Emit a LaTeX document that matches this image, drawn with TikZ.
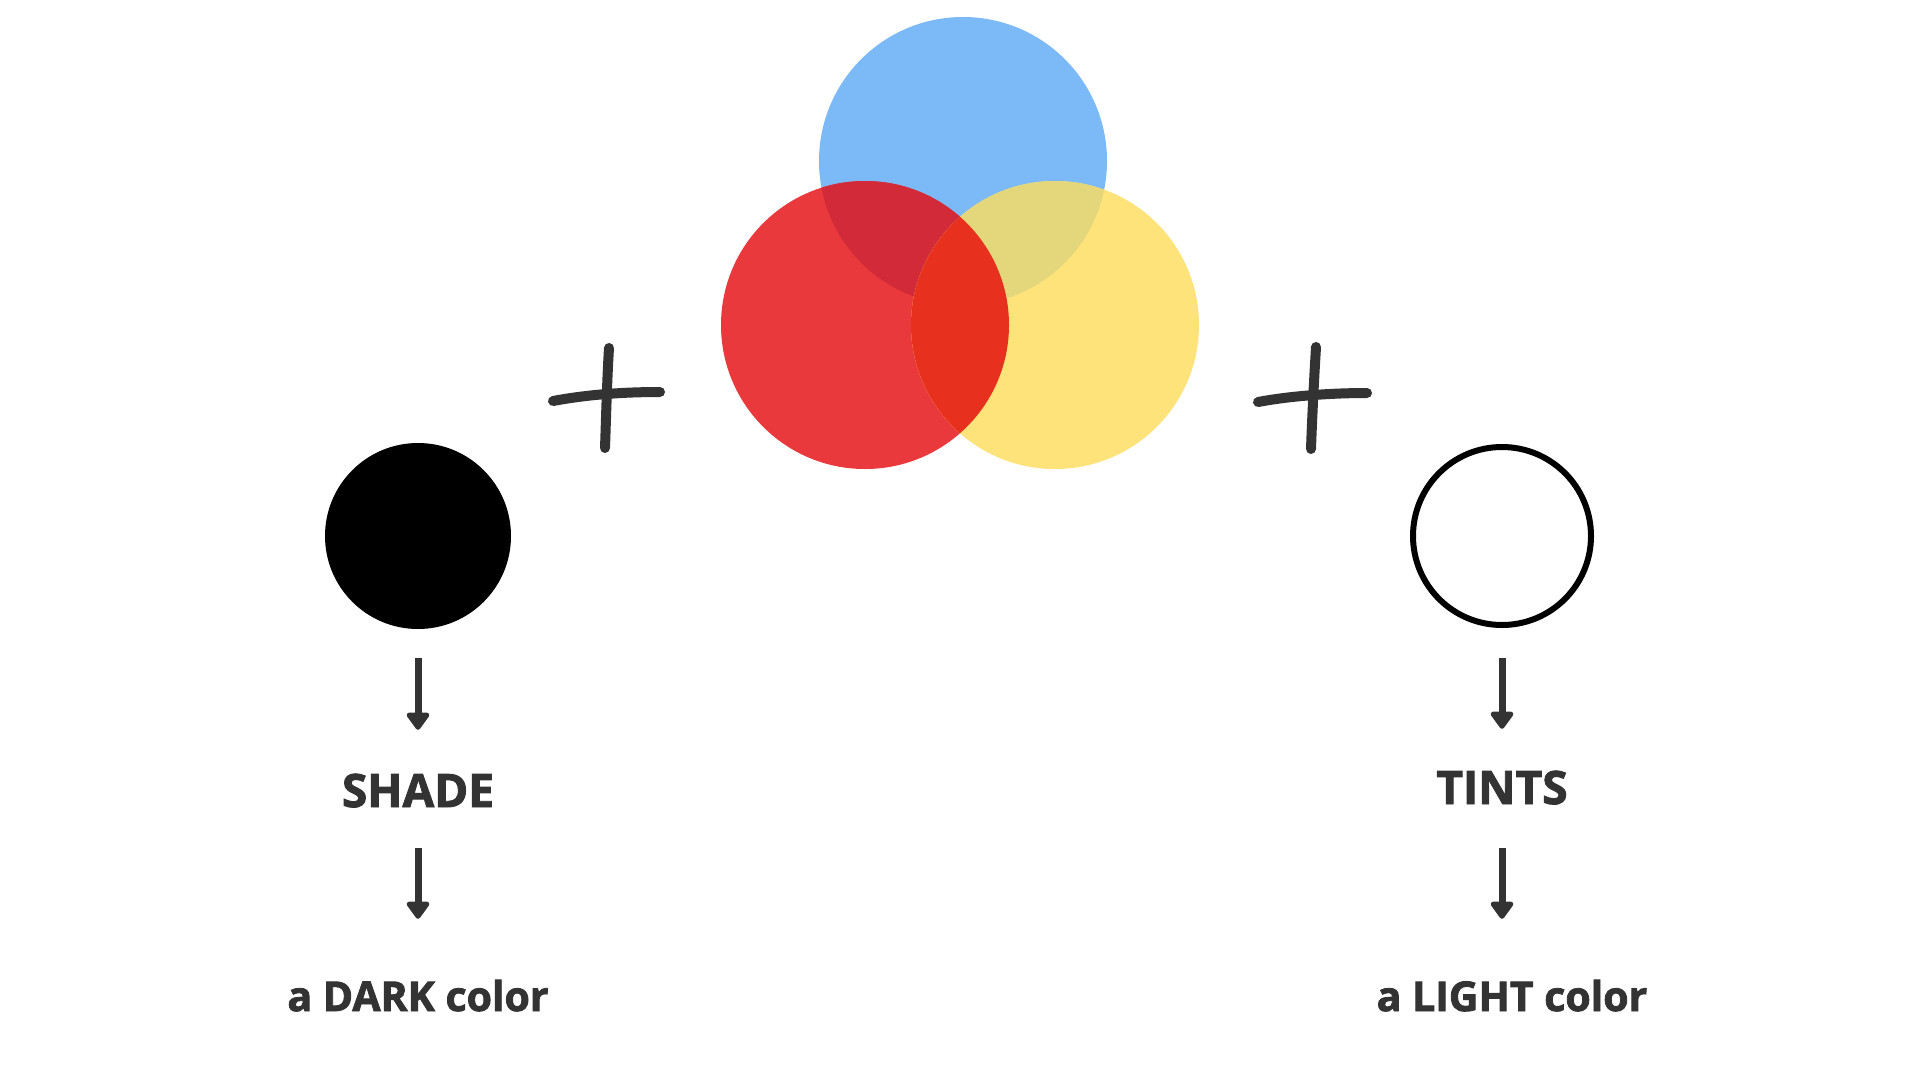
\documentclass[tikz,border=0pt]{standalone}
\usepackage{fontspec}
\newfontfamily\lblfont{Open Sans}[BoldFeatures={FakeBold=2}]
\usetikzlibrary{arrows.meta}
\definecolor{inkgray}{HTML}{333333}
\definecolor{cblue}{HTML}{7BBAF7}
\definecolor{cred}{HTML}{E9393D}
\definecolor{cyellow}{HTML}{FEE27A}
\definecolor{credblue}{HTML}{D22A38}
\definecolor{cyellowblue}{HTML}{E4D77B}
\definecolor{credyellow}{HTML}{E8301F}
\tikzset{
  ink/.style={draw=inkgray, line width=10pt, line cap=round},
  arr/.style={draw=inkgray, line width=7pt, -{Triangle[length=19pt,width=26pt,round]}},
  bigtxt/.style={font=\lblfont\bfseries\fontsize{46}{46}\selectfont, text=inkgray, inner sep=0pt, text height=31pt, text depth=0pt, anchor=base},
  smalltxt/.style={font=\lblfont\bfseries\fontsize{41}{41}\selectfont, text=inkgray, inner sep=0pt, text height=28pt, text depth=0pt, anchor=base},
  disc/.style={circle, inner sep=0pt, minimum size=288pt}
}
\begin{document}
\begin{tikzpicture}[x=1pt,y=-1pt]
\fill[white] (0,0) rectangle (1920,1080);
\useasboundingbox (0,0) rectangle (1920,1080);
% primary colour discs
\node[disc, fill=cblue] (blue) at (963,161) {};
\node[disc, fill=cred] (red) at (865,325) {};
\node[disc, fill=cyellow] (yellow) at (1055,325) {};
\begin{scope}
  \clip (865,325) circle[radius=144];
  \fill[credblue] (963,161) circle[radius=144];
\end{scope}
\begin{scope}
  \clip (1055,325) circle[radius=144];
  \fill[cyellowblue] (963,161) circle[radius=144];
\end{scope}
\begin{scope}
  \clip (865,325) circle[radius=144];
  \fill[credyellow] (1055,325) circle[radius=144];
\end{scope}
% plus signs
\draw[ink] (609,348) .. controls (607,380) and (606,420) .. (605,448);
\draw[ink] (553,401) .. controls (585,395) and (620,392) .. (660,392);
\draw[ink] (1316,347) .. controls (1314,380) and (1312,420) .. (1311,449);
\draw[ink] (1258,402) .. controls (1290,396) and (1330,393) .. (1367,393);
% shade / tint discs
\node[circle, inner sep=0pt, minimum size=186pt, fill=black] (blk) at (418,536) {};
\node[circle, inner sep=0pt, minimum size=178pt, draw=black, line width=6pt, fill=white] (wht) at (1502,536) {};
% labels
\node[bigtxt] (shade) at (418,807) {SHADE};
\node[bigtxt] (tints) at (1502,804) {TINTS};
\node[smalltxt] (dark) at (418,1011) {a DARK color};
\node[smalltxt] (light) at (1512,1011) {a LIGHT color};
% arrows
\draw[arr, shorten <=29pt, shorten >=46pt] (blk.south) -- (shade.north);
\draw[arr, shorten <=41pt, shorten >=64pt] (shade.south) -- (dark.north);
\draw[arr, shorten <=30pt, shorten >=44pt] (wht.south) -- (tints.north);
\draw[arr, shorten <=44pt, shorten >=64pt] (tints.south) -- (tints.south |- light.north);
\end{tikzpicture}
\end{document}
